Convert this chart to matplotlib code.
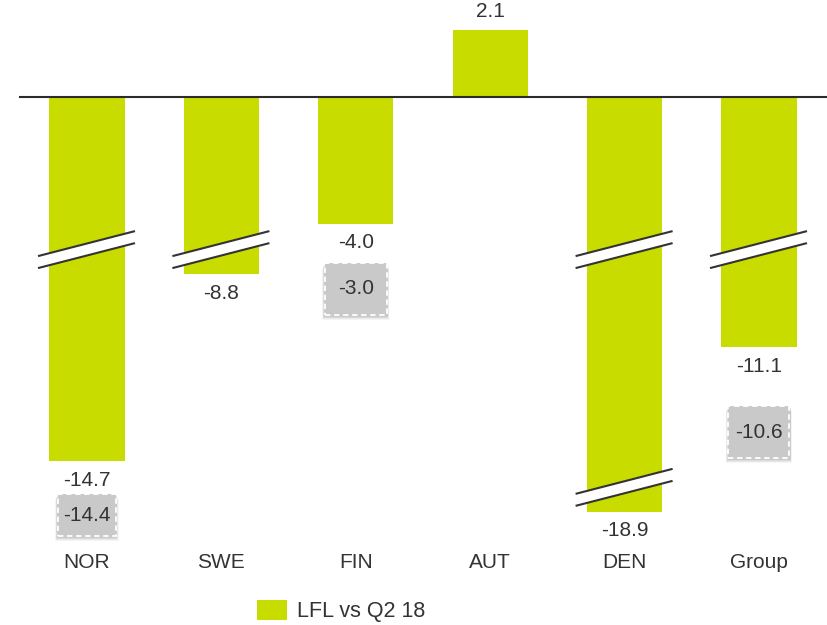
import numpy as np
import matplotlib
matplotlib.use('Agg')
import matplotlib.pyplot as plt
from matplotlib.patches import Rectangle, Polygon, Patch

plt.rcParams['font.family'] = ['Liberation Sans', 'DejaVu Sans']

categories = ['NOR', 'SWE', 'FIN', 'AUT', 'DEN', 'Group']
lfl = [-14.7, -8.8, -4.0, 2.1, -18.9, -11.1]
# grey boxed figures under some of the bars
boxed = {'NOR': -14.4, 'FIN': -3.0, 'Group': -10.6}
series_name = 'LFL vs Q2 18'

# cut-out ranges on the value axis: (start, length)
breaks = [(-4.81, 3.22), (-15.52, 2.62)]
eps = 0.01

bar_col = '#c8dc00'
txt_col = '#333333'
W, H = 827, 625
px_per_unit = 31.7
fs = 15


def build_knots():
    real = [100.0]
    disp = [100.0]
    shift = 0.0
    for start, length in breaks:
        real += [start, start - length]
        disp += [start + shift, start + shift - eps]
        shift += length - eps
    real.append(-100.0)
    disp.append(-100.0 + shift)
    return np.array(real[::-1]), np.array(disp[::-1])


real_k, disp_k = build_knots()
fwd = lambda v: np.interp(v, real_k, disp_k)
inv = lambda d: np.interp(d, disp_k, real_k)

fig = plt.figure(figsize=(W / 100, H / 100), dpi=100)
ax = fig.add_axes([0, 0, 1, 1])
ax.set_yscale('function', functions=(fwd, inv))
ax.set_ylim(inv(-(H - 97) / px_per_unit), 97 / px_per_unit)
ax.set_xlim(-87 / 134.4, (W - 87) / 134.4)
ax.axis('off')

x = np.arange(len(categories))
ax.bar(x, lfl, width=0.56, color=bar_col, zorder=2)
ax.axhline(0, xmin=20 / W, xmax=1, color='#2b2b2b', lw=1.5, zorder=3)

to_px = ax.transData.transform
to_ax = ax.transAxes.inverted().transform

# value labels
for i, v in enumerate(lfl):
    off = 19 if v > 0 else -19
    ax.annotate(f'{v:.1f}', (i, v), xytext=(0, off), textcoords='offset pixels',
                ha='center', va='center', fontsize=fs, color=txt_col)

# category labels
for i, c in enumerate(categories):
    ax.text(i, 1 - 563 / H, c, transform=ax.get_xaxis_transform(),
            ha='center', va='center', fontsize=fs, color=txt_col)

# break marks on bars that pass through a cut
for i, v in enumerate(lfl):
    for start, length in breaks:
        if v >= start - length:
            continue
        cx, cy = to_px((i, start))
        xs = np.array([cx - 49, cx + 48])
        slope = 25 / 97
        up = cy + 6 + (xs - cx) * slope
        lo = cy - 6 + (xs - cx) * slope
        band = np.array([[xs[0], up[0]], [xs[1], up[1]], [xs[1], lo[1]], [xs[0], lo[0]]])
        ax.add_patch(Polygon(to_ax(band), closed=True, transform=ax.transAxes,
                             facecolor='white', edgecolor='none', zorder=4))
        for ys in (up, lo):
            pts = to_ax(np.column_stack([xs, ys]))
            ax.plot(pts[:, 0], pts[:, 1], transform=ax.transAxes,
                    color='#333333', lw=1.5, zorder=5, solid_capstyle='butt')

# grey boxes: pixel offset below bar end and box size
box_drop = {'NOR': 54, 'FIN': 65, 'Group': 85}
box_size = {'NOR': (58, 42), 'FIN': (62, 52), 'Group': (61, 52)}
for name, val in boxed.items():
    i = categories.index(name)
    cx, cy = to_px((i, lfl[i]))
    cy -= box_drop[name]
    bw, bh = box_size[name]
    # soft drop shadow
    for k, a in ((5, 0.04), (4, 0.05), (3, 0.06), (2, 0.07)):
        x0, y0 = to_ax((cx - bw / 2 - k / 2, cy - bh / 2 - k))
        ax.add_patch(Rectangle((x0, y0), (bw + k) / W, bh / H, transform=ax.transAxes,
                               facecolor='black', alpha=a, edgecolor='none', zorder=5))
    x0, y0 = to_ax((cx - bw / 2, cy - bh / 2))
    ax.add_patch(Rectangle((x0, y0), bw / W, bh / H, transform=ax.transAxes,
                           facecolor='#c9c9c9', edgecolor='white', lw=1.3,
                           linestyle=(0, (3, 2)), zorder=6))
    tx, ty = to_ax((cx, cy))
    ax.text(tx, ty, f'{val:.1f}', transform=ax.transAxes, ha='center', va='center',
            fontsize=fs, color=txt_col, zorder=7)

fig.legend(handles=[Patch(facecolor=bar_col, label=series_name)],
           loc='center left', bbox_to_anchor=(257 / W, 1 - 611 / H),
           frameon=False, fontsize=15.5, handlelength=1.4, handleheight=1.05,
           handletextpad=0.45, borderpad=0, borderaxespad=0, labelcolor=txt_col)

fig.savefig('out.png', dpi=100)
